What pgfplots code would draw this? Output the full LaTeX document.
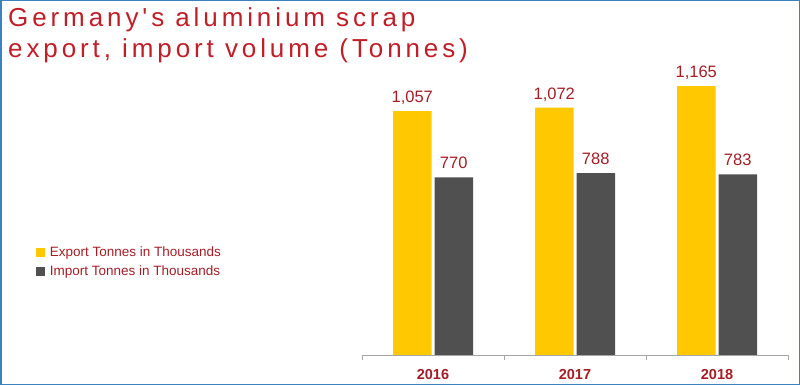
\documentclass[border=0pt]{standalone}
\usepackage{pgfplots}
\pgfplotsset{compat=1.18}
\usepackage{fontspec}
\setmainfont{Liberation Sans}
\newfontfamily\titlefont[LetterSpace=15]{Liberation Sans}
\definecolor{ttl}{RGB}{192,30,40}
\definecolor{lbl}{RGB}{165,30,38}
\definecolor{ylw}{RGB}{255,200,0}
\definecolor{gry}{RGB}{80,80,80}
\definecolor{brd}{RGB}{60,130,190}
\pgfplotsset{sqleg/.style={legend image code/.code={\fill[##1] (0bp,-4.5bp) rectangle (9bp,4.5bp); \path (11.5bp,0bp);}}}
\pgfplotstableread{
x export import
0 1057 770
1 1072 788
2 1165 783
}\datatable
\begin{document}
\begin{tikzpicture}
\path[use as bounding box] (0,0) rectangle (800bp,385bp);
\fill[white] (0,0) rectangle (800bp,385bp);
\draw[brd, line width=1.5bp] (0.75bp,0.75bp) rectangle (799.25bp,384.25bp);
\node[anchor=base west, inner sep=0, text=ttl, font=\titlefont\fontsize{26bp}{30bp}\selectfont] at (8bp,358bp) {Germany's aluminium scrap};
\node[anchor=base west, inner sep=0, text=ttl, font=\titlefont\fontsize{26bp}{30bp}\selectfont] at (8bp,327.5bp) {export, import volume (Tonnes)};
\begin{axis}[
  at={(362bp,30bp)}, anchor=south west,
  scale only axis, width=426bp, height=325bp,
  xmin=-0.5, xmax=2.5, ymin=0, ymax=1408,
  axis x line*=bottom, axis y line=none,
  ytick=\empty,
  ybar=3bp, bar width=38.5bp,
  xtick={0,1,2}, xticklabels={2016,2017,2018},
  minor xtick={-0.5,0.5,1.5,2.5},
  major tick length=0pt, minor tick length=5bp, tick align=outside,
  minor tick style={black!35, line width=0.8bp},
  x axis line style={black!35, line width=0.8bp},
  xticklabel style={font=\bfseries\fontsize{14.5bp}{17bp}\selectfont, text=lbl, yshift=-11bp},
  /pgf/number format/.cd, 1000 sep={,}, assume math mode=true, /pgfplots/.cd,
  nodes near coords={\pgfmathprintnumber{\pgfplotspointmeta}},
  every node near coord/.append style={font=\fontsize{16.5bp}{19bp}\selectfont, text=lbl, anchor=base, yshift=8.5bp},
  legend style={at={(-0.765,0.285)}, anchor=west, draw=none, fill=none,
    font=\fontsize{13.5bp}{15bp}\selectfont, text=lbl, row sep=4.6bp, inner sep=0pt,
    nodes={inner ysep=1bp, text height=9.6bp, text depth=2.8bp}},
  legend cell align=left,
]
\addplot[fill=ylw, draw=none, sqleg] table[x=x, y=export] {\datatable};
\addlegendentry{Export Tonnes in Thousands}
\addplot[fill=gry, draw=none, sqleg] table[x=x, y=import] {\datatable};
\addlegendentry{Import Tonnes in Thousands}
\end{axis}
\end{tikzpicture}
\end{document}
